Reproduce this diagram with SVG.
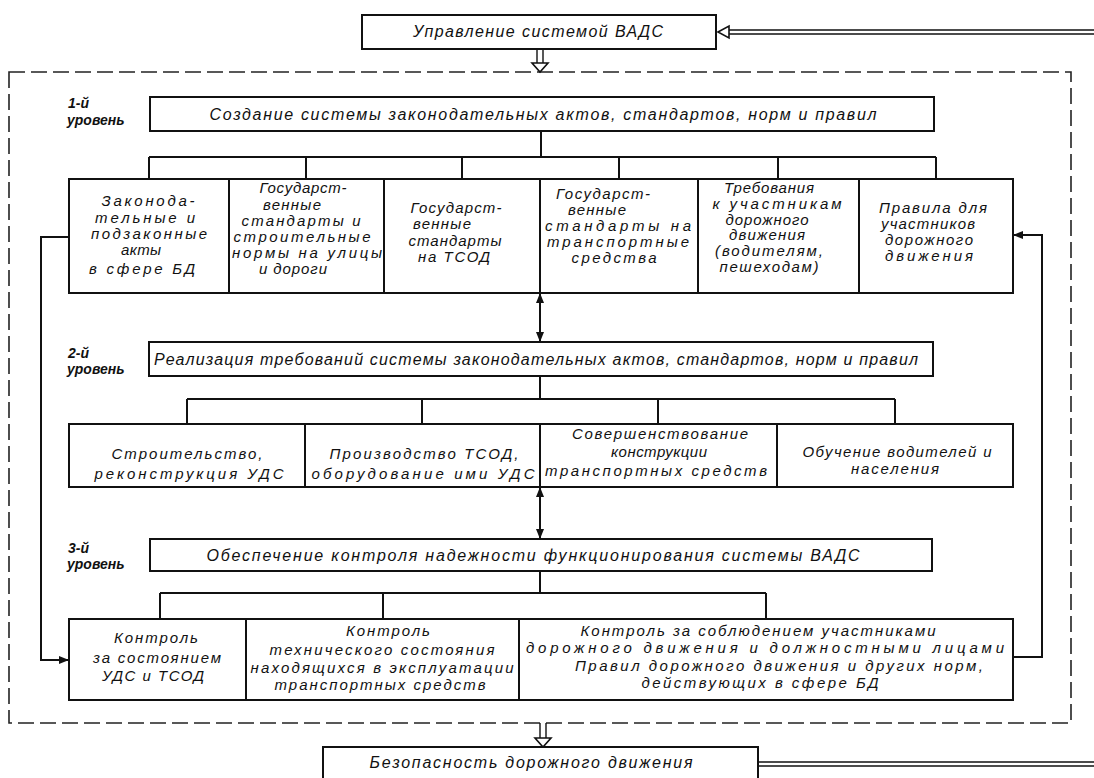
<svg xmlns="http://www.w3.org/2000/svg" width="1094" height="778" viewBox="0 0 1094 778">
<style>
.box{fill:#fff;stroke:#111;stroke-width:2}
.t{font-family:"Liberation Sans",Arial,sans-serif;font-style:italic;font-size:15px;fill:#111;text-anchor:middle}
.h{font-size:16px}
.lbl{font-family:"Liberation Sans",Arial,sans-serif;font-style:italic;font-weight:bold;font-size:14px;fill:#111}
.ln{fill:none;stroke:#111;stroke-width:2}
.thin{fill:none;stroke:#111;stroke-width:1.4}
.hollow{fill:#fff;stroke:#111;stroke-width:1.6}
.dash{fill:none;stroke:#222;stroke-width:1.6;stroke-dasharray:16 6}
</style>
<defs>
<marker id="arr" viewBox="0 0 10 8" refX="10" refY="4" markerWidth="10" markerHeight="8" markerUnits="userSpaceOnUse" orient="auto-start-reverse">
<path d="M0,0 L10,4 L0,8 z" fill="#111"/>
</marker>
</defs>
<rect width="1094" height="778" fill="#fff"/>

<rect class="dash" x="9" y="72" width="1062" height="651"/>

<g id="connectors">
  <line class="thin" x1="727" y1="30" x2="1094" y2="30"/>
  <line class="thin" x1="727" y1="34" x2="1094" y2="34"/>
  <polygon class="hollow" points="718,32 729,26 729,38"/>
  <line class="thin" x1="537" y1="49" x2="537" y2="63"/>
  <line class="thin" x1="543" y1="49" x2="543" y2="63"/>
  <polygon class="hollow" points="532,63 548,63 540,72"/>
  <line class="thin" x1="540" y1="723" x2="540" y2="738"/>
  <line class="thin" x1="546" y1="723" x2="546" y2="738"/>
  <polygon class="hollow" points="535,738 551,738 543,747"/>
  <line class="thin" x1="758" y1="762" x2="1094" y2="762"/>
  <line class="thin" x1="758" y1="766" x2="1094" y2="766"/>
  <path class="ln" d="M541,131 V157 M149,157 H936 M149,157 V179 M306,157 V179 M462,157 V179 M619,157 V179 M778,157 V179 M936,157 V179"/>
  <line class="ln" x1="540" y1="293" x2="540" y2="342" marker-start="url(#arr)" marker-end="url(#arr)"/>
  <path class="ln" d="M540,376 V399 M187,399 H895 M187,399 V424 M422,399 V424 M658,399 V424 M895,399 V424"/>
  <line class="ln" x1="540" y1="487" x2="540" y2="539" marker-start="url(#arr)" marker-end="url(#arr)"/>
  <path class="ln" d="M540,571 V593 M160,593 H766 M160,593 V619 M383,593 V619 M766,593 V619"/>
  <path class="ln" d="M69,237 H41 V660 H69" marker-end="url(#arr)"/>
  <path class="ln" d="M1013,657 H1042 V235 H1013" marker-end="url(#arr)"/>
</g>

<g id="top">
  <rect class="box" x="362" y="15" width="354" height="34"/>
  <text class="t h" x="538" y="37" textLength="250">Управление системой ВАДС</text>
</g>

<g id="level1-label">
  <text class="lbl" x="68" y="108">1-й</text>
  <text class="lbl" x="67" y="125">уровень</text>
</g>
<g id="level1">
  <rect class="box" x="150" y="97" width="784" height="34"/>
  <text class="t h" x="543" y="120" textLength="667">Создание системы законодательных актов, стандартов, норм и правил</text>
</g>

<g id="n1-1">
  <rect class="box" x="69" y="179" width="160" height="114"/>
  <text class="t" x="148" y="206" textLength="93">Законода-</text>
  <text class="t" x="145" y="223" textLength="100">тельные и</text>
  <text class="t" x="149" y="239" textLength="116">подзаконные</text>
  <text class="t" x="141" y="255" textLength="40">акты</text>
  <text class="t" x="142" y="274" textLength="106">в сфере БД</text>
</g>
<g id="n1-2">
  <rect class="box" x="229" y="179" width="155" height="114"/>
  <text class="t" x="303" y="193" textLength="87">Государст-</text>
  <text class="t" x="292" y="210" textLength="58">венные</text>
  <text class="t" x="301" y="226" textLength="119">стандарты и</text>
  <text class="t" x="302" y="242" textLength="137">строительные</text>
  <text class="t" x="307" y="258" textLength="150">нормы на улицы</text>
  <text class="t" x="293" y="274" textLength="68">и дороги</text>
</g>
<g id="n1-3">
  <rect class="box" x="384" y="179" width="156" height="114"/>
  <text class="t" x="456" y="213" textLength="91">Государст-</text>
  <text class="t" x="442" y="229" textLength="58">венные</text>
  <text class="t" x="455" y="246" textLength="93">стандарты</text>
  <text class="t" x="454" y="262" textLength="72">на ТСОД</text>
</g>
<g id="n1-4">
  <rect class="box" x="540" y="179" width="158" height="114"/>
  <text class="t" x="603" y="199" textLength="94">Государст-</text>
  <text class="t" x="597" y="215" textLength="58">венные</text>
  <text class="t" x="618" y="231" textLength="146">стандарты на</text>
  <text class="t" x="618" y="247" textLength="142">транспортные</text>
  <text class="t" x="614" y="263" textLength="85">средства</text>
</g>
<g id="n1-5">
  <rect class="box" x="698" y="179" width="161" height="114"/>
  <text class="t" x="769" y="193" textLength="90">Требования</text>
  <text class="t" x="777" y="209" textLength="129">к участникам</text>
  <text class="t" x="767" y="225" textLength="83">дорожного</text>
  <text class="t" x="767" y="240" textLength="76">движения</text>
  <text class="t" x="769" y="256" textLength="108">(водителям,</text>
  <text class="t" x="769" y="272" textLength="99">пешеходам)</text>
</g>
<g id="n1-6">
  <rect class="box" x="859" y="179" width="154" height="114"/>
  <text class="t" x="933" y="213" textLength="108">Правила для</text>
  <text class="t" x="928" y="229" textLength="94">участников</text>
  <text class="t" x="929" y="245" textLength="88">дорожного</text>
  <text class="t" x="929" y="261" textLength="88">движения</text>
</g>

<g id="level2-label">
  <text class="lbl" x="68" y="358">2-й</text>
  <text class="lbl" x="67" y="374">уровень</text>
</g>
<g id="level2">
  <rect class="box" x="149" y="342" width="784" height="34"/>
  <text class="t h" x="536" y="365" textLength="764">Реализация требований системы законодательных актов, стандартов, норм и правил</text>
</g>

<g id="n2-1">
  <rect class="box" x="69" y="424" width="236" height="63"/>
  <text class="t" x="187" y="459" textLength="151">Строительство,</text>
  <text class="t" x="189" y="479" textLength="189">реконструкция УДС</text>
</g>
<g id="n2-2">
  <rect class="box" x="305" y="424" width="235" height="63"/>
  <text class="t" x="424" y="459" textLength="189">Производство ТСОД,</text>
  <text class="t" x="423" y="479" textLength="223">оборудование ими УДС</text>
</g>
<g id="n2-3">
  <rect class="box" x="540" y="424" width="237" height="63"/>
  <text class="t" x="660" y="439" textLength="176">Совершенствование</text>
  <text class="t" x="659" y="457" textLength="96">конструкции</text>
  <text class="t" x="656" y="476" textLength="222">транспортных средств</text>
</g>
<g id="n2-4">
  <rect class="box" x="777" y="424" width="236" height="63"/>
  <text class="t" x="897" y="457" textLength="189">Обучение водителей и</text>
  <text class="t" x="895" y="474" textLength="88">населения</text>
</g>

<g id="level3-label">
  <text class="lbl" x="68" y="553">3-й</text>
  <text class="lbl" x="67" y="569">уровень</text>
</g>
<g id="level3">
  <rect class="box" x="150" y="539" width="782" height="32"/>
  <text class="t h" x="533" y="561" textLength="653">Обеспечение контроля надежности функционирования системы ВАДС</text>
</g>

<g id="n3-1">
  <rect class="box" x="69" y="619" width="177" height="81"/>
  <text class="t" x="156" y="643" textLength="84">Контроль</text>
  <text class="t" x="157" y="663" textLength="128">за состоянием</text>
  <text class="t" x="153" y="681" textLength="102">УДС и ТСОД</text>
</g>
<g id="n3-2">
  <rect class="box" x="246" y="619" width="273" height="81"/>
  <text class="t" x="388" y="636" textLength="84">Контроль</text>
  <text class="t" x="382" y="655" textLength="225">технического состояния</text>
  <text class="t" x="382" y="673" textLength="263">находящихся в эксплуатации</text>
  <text class="t" x="380" y="690" textLength="211">транспортных средств</text>
</g>
<g id="n3-3">
  <rect class="box" x="519" y="619" width="494" height="81"/>
  <text class="t" x="758" y="636" textLength="355">Контроль за соблюдением участниками</text>
  <text class="t" x="765" y="653" textLength="478">дорожного движения и должностными лицами</text>
  <text class="t" x="779" y="671" textLength="408">Правил дорожного движения и других норм,</text>
  <text class="t" x="760" y="688" textLength="237">действующих в сфере БД</text>
</g>

<g id="bottom">
  <rect class="box" x="323" y="747" width="435" height="40"/>
  <text class="t h" x="531" y="768" textLength="323">Безопасность дорожного движения</text>
</g>
</svg>
